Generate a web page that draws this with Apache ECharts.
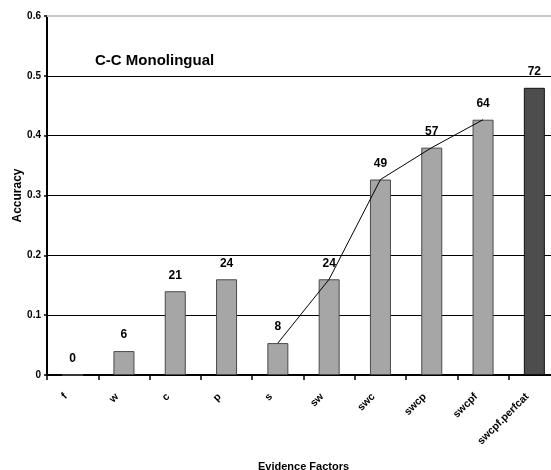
<!DOCTYPE html>
<html>
<head>
<meta charset="utf-8">
<script src="https://cdn.jsdelivr.net/npm/echarts@6/dist/echarts.min.js"></script>
<style>
  html, body { margin: 0; padding: 0; background: #ffffff; }
  #chart { width: 551px; height: 470px; }
</style>
</head>
<body>
<div id="chart"></div>
<script>
// Evidence factor combinations on the x axis
const factors = ['f', 'w', 'c', 'p', 's', 'sw', 'swc', 'swcp', 'swcpf', 'swcpf.perfcat'];
// Correct answers per factor set (out of 150 questions)
const correct = [0, 6, 21, 24, 8, 24, 49, 57, 64, 72];
const totalQuestions = 150;
// Factor sets joined by the trend line (cumulative combinations)
const trendFactors = ['s', 'sw', 'swc', 'swcp', 'swcpf'];
// Accuracy axis ticks
const yTicks = [0, 0.1, 0.2, 0.3, 0.4, 0.5, 0.6];

const accuracy = correct.map(c => c / totalQuestions);
const trend = factors.map((f, i) => trendFactors.includes(f) ? accuracy[i] : null);

const FONT = '"Liberation Sans", Arial, sans-serif';

const chart = echarts.init(document.getElementById('chart'), null, { renderer: 'canvas' });

chart.setOption({
  backgroundColor: '#ffffff',
  animation: false,
  title: {
    text: 'C-C Monolingual',
    left: 95,
    top: 53,
    padding: 0,
    textStyle: { fontFamily: FONT, fontWeight: 'bold', fontSize: 15, color: '#000' }
  },
  grid: {
    left: 47, top: 16, width: 513, height: 359,
    containLabel: false, outerBoundsMode: 'none'
  },
  xAxis: [{
    type: 'category',
    data: factors,
    boundaryGap: true,
    name: 'Evidence Factors',
    nameLocation: 'middle',
    nameGap: 86,
    nameMoveOverlap: false,
    nameTextStyle: { fontFamily: FONT, fontWeight: 'bold', fontSize: 11, color: '#000' },
    axisLine: { lineStyle: { color: '#000', width: 2 } },
    axisTick: { show: true, interval: 0, length: 5, lineStyle: { color: '#000', width: 1.5 } },
    axisLabel: {
      interval: 0, rotate: 45, margin: 13,
      padding: [0, 10, 0, 0],
      fontFamily: FONT, fontWeight: 'bold', fontSize: 10.5, color: '#000'
    },
    splitLine: { show: false }
  }, {
    type: 'category',
    data: factors,
    position: 'top',
    axisLine: { show: true, lineStyle: { color: '#c8c8c8', width: 2 } },
    axisTick: { show: false },
    axisLabel: { show: false }
  }],
  yAxis: {
    type: 'value',
    min: yTicks[0],
    max: yTicks[yTicks.length - 1],
    interval: 0.1,
    name: 'Accuracy',
    nameLocation: 'middle',
    nameGap: 23,
    nameMoveOverlap: false,
    nameTextStyle: { fontFamily: FONT, fontWeight: 'bold', fontSize: 12, color: '#000' },
    axisLine: { show: true, lineStyle: { color: '#000', width: 2 } },
    axisTick: { show: true, length: 3, lineStyle: { color: '#000', width: 1.5 } },
    axisLabel: {
      margin: 6,
      fontFamily: FONT, fontWeight: 'bold', fontSize: 10, color: '#000',
      formatter: v => String(Math.round(v * 10) / 10)
    },
    splitLine: { show: true, showMaxLine: false, lineStyle: { color: '#000', width: 1 } }
  },
  series: [{
    type: 'bar',
    data: accuracy.map((v, i) => ({
      value: v,
      itemStyle: i === factors.length - 1
        ? { color: '#4d4d4d', borderColor: '#111', borderWidth: 1 }
        : { color: '#a6a6a6', borderColor: '#4a4a4a', borderWidth: 1 }
    })),
    barWidth: 21,
    label: {
      show: true,
      position: 'top',
      distance: 10,
      fontFamily: FONT, fontWeight: 'bold', fontSize: 12, color: '#000',
      formatter: p => String(correct[p.dataIndex])
    }
  }, {
    type: 'line',
    data: trend,
    symbol: 'none',
    connectNulls: false,
    z: 5,
    lineStyle: { color: '#000', width: 1 }
  }]
});
</script>
</body>
</html>
